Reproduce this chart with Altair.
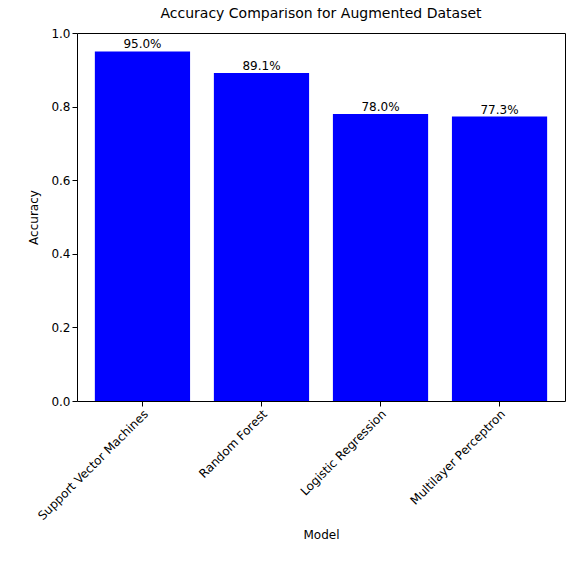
import altair as alt
import pandas as pd

models = ["Support Vector Machines", "Random Forest", "Logistic Regression", "Multilayer Perceptron"]
accuracy = [0.950, 0.891, 0.780, 0.773]

df = pd.DataFrame({"model": models, "accuracy": accuracy})

base = alt.Chart(df).encode(
    x=alt.X("model:N", sort=models, title="Model",
            scale=alt.Scale(paddingInner=0.2, paddingOuter=0.15),
            axis=alt.Axis(labelAngle=-45, labelAlign="right", labelBaseline="top",
                          labelFontSize=12, titleFontSize=12, titleFontWeight="normal",
                          labelColor="black", titleColor="black", tickColor="black",
                          domain=False, titlePadding=8, labelLimit=300)),
    y=alt.Y("accuracy:Q", title="Accuracy",
            scale=alt.Scale(domain=[0, 1]),
            axis=alt.Axis(values=[0, 0.2, 0.4, 0.6, 0.8, 1.0], format=".1f", grid=False,
                          labelFontSize=12, titleFontSize=12, titleFontWeight="normal",
                          labelColor="black", titleColor="black", tickColor="black",
                          domain=False, titlePadding=10)),
)

bars = base.mark_bar(color="blue")
labels = base.mark_text(dy=-7, fontSize=12, color="black").encode(
    text=alt.Text("accuracy:Q", format=".1%")
)

chart = (bars + labels).properties(
    width=488, height=368,
    title=alt.Title("Accuracy Comparison for Augmented Dataset", fontSize=14,
                    fontWeight="normal", color="black", offset=6),
    autosize=alt.AutoSizeParams(type="none"),
    padding={"left": 69, "top": 25, "right": 5, "bottom": 170},
).configure(font="DejaVu Sans").configure_view(stroke="black", strokeWidth=1)

chart.save("out.html", embed_options={"renderer": "svg", "actions": False})
